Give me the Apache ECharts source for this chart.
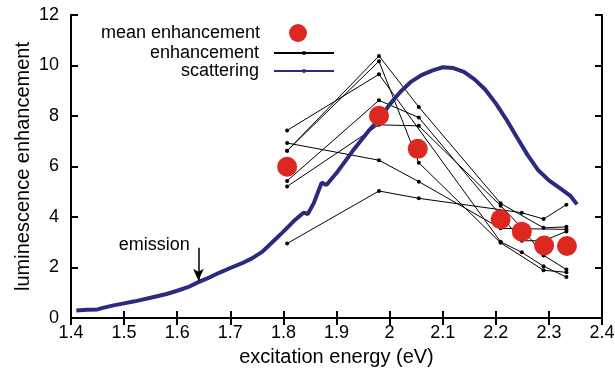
<!DOCTYPE html>
<html>
<head>
<meta charset="utf-8">
<script src="https://cdn.jsdelivr.net/npm/echarts@6/dist/echarts.min.js"></script>
<style>
  html, body { margin: 0; padding: 0; background: #fff; }
  #chart { width: 615px; height: 372px; }
</style>
</head>
<body>
<div id="chart"></div>
<script>
// excitation energies where enhancement was measured (eV)
var energies = [1.807, 1.98, 2.055, 2.209, 2.249, 2.29, 2.333];

// individual enhancement curves (null = not measured)
var enh1 = [6.62, 10.38, 8.36, 4.54, null, 3.57, 3.61];
var enh2 = [6.62, 10.17, 6.15, 2.98, null, 1.89, 1.81];
var enh3 = [7.43, 9.65, null, 3.02, 2.60, 2.05, 1.62];
var enh4 = [5.43, 8.62, 7.94, null, 3.06, 3.06, 3.43];
var enh5 = [5.21, 7.65, 7.61, 4.45, 3.57, 2.48, 1.92];
var enh6 = [6.93, 6.25, 5.40, 3.55, null, null, 3.51];
var enh7 = [2.95, 5.03, 4.74, null, 4.17, 3.92, 4.49];
var enhancements = [enh1, enh2, enh3, enh4, enh5, enh6, enh7];

// mean enhancement
var meanX = [1.807, 1.98, 2.053, 2.209, 2.249, 2.291, 2.334];
var meanY = [5.99, 8.01, 6.70, 3.91, 3.42, 2.87, 2.85];

// scattering spectrum
var scatX = [1.41, 1.43, 1.45, 1.46, 1.48, 1.50, 1.52, 1.55, 1.58, 1.60,
             1.62, 1.64, 1.66, 1.68, 1.70, 1.72, 1.74, 1.76, 1.78, 1.80,
             1.82, 1.838, 1.846, 1.857, 1.872, 1.881, 1.90, 1.93, 1.96, 1.98,
             2.00, 2.02, 2.04, 2.06, 2.08, 2.10, 2.12, 2.14, 2.16, 2.18,
             2.20, 2.22, 2.24, 2.26, 2.28, 2.30, 2.32, 2.34, 2.353];
var scatY = [0.30, 0.33, 0.34, 0.40, 0.50, 0.58, 0.66, 0.80, 0.95, 1.08,
             1.22, 1.42, 1.60, 1.80, 1.98, 2.15, 2.35, 2.62, 3.02, 3.42,
             3.85, 4.17, 4.12, 4.54, 5.36, 5.27, 5.74, 6.60, 7.40, 7.86,
             8.45, 8.95, 9.35, 9.62, 9.80, 9.93, 9.90, 9.75, 9.45, 9.05,
             8.50, 7.86, 7.15, 6.45, 5.85, 5.45, 5.15, 4.85, 4.50];

// emission marker
var emissionEnergy = 1.64;
var emissionArrow = [2.78, 1.48];
var emissionLabelPos = [1.557, 2.9];

var xTicks = { min: 1.4, max: 2.4, step: 0.1 };
var yTicks = { min: 0, max: 12, step: 2 };

var chartDom = document.getElementById('chart');
var myChart = echarts.init(chartDom, null, { renderer: 'canvas' });

var fontFam = '"Liberation Sans", Arial, Helvetica, sans-serif';

function pairs(xs, ys) {
  var out = [];
  for (var i = 0; i < xs.length; i++) {
    if (ys[i] !== null) out.push([xs[i], ys[i]]);
  }
  return out;
}

var series = [];
enhancements.forEach(function (vals) {
  series.push({
    name: 'enhancement',
    type: 'line',
    data: pairs(energies, vals),
    symbol: 'circle',
    symbolSize: 4,
    showSymbol: true,
    itemStyle: { color: '#000' },
    lineStyle: { color: '#000', width: 1 },
    z: 2,
    animation: false
  });
});

series.push({
  name: 'scattering',
  type: 'line',
  data: pairs(scatX, scatY),
  symbol: 'none',
  itemStyle: { color: '#2c2a80' },
  lineStyle: { color: '#2c2a80', width: 4 },
  z: 3,
  animation: false,
  markLine: {
    silent: true,
    symbol: ['none', 'arrow'],
    symbolSize: [8, 12],
    label: { show: false },
    lineStyle: { color: '#000', type: 'solid', width: 1.5 },
    data: [[{ coord: [emissionEnergy, emissionArrow[0]] }, { coord: [emissionEnergy, emissionArrow[1]] }]]
  },
  markPoint: {
    silent: true,
    symbol: 'rect',
    symbolSize: 1,
    itemStyle: { color: 'rgba(0,0,0,0)' },
    label: {
      show: true, position: 'inside', formatter: 'emission',
      color: '#000', fontSize: 18, fontFamily: fontFam
    },
    data: [{ coord: emissionLabelPos }]
  }
});

series.push({
  name: 'mean enhancement',
  type: 'scatter',
  data: pairs(meanX, meanY),
  symbol: 'circle',
  symbolSize: 20,
  itemStyle: { color: '#dc2820', opacity: 1 },
  z: 5,
  animation: false
});

function fmtX(v) { return String(Number(v.toFixed(1))); }

var axisLine = { show: true, lineStyle: { color: '#000', width: 2 } };
var tick = { show: true, inside: true, length: 7, lineStyle: { color: '#000', width: 2 } };

var option = {
  animation: false,
  grid: { left: 71, right: 13, top: 15, bottom: 54, containLabel: false, outerBoundsMode: 'none' },
  legend: [
    {
      data: ['mean enhancement'],
      orient: 'vertical', align: 'right',
      right: 303, top: 19,
      itemWidth: 60, itemHeight: 18,
      selectedMode: false,
      textStyle: { fontSize: 18, color: '#000', fontFamily: fontFam, padding: [0, 3, 0, 0] }
    },
    {
      data: ['enhancement', 'scattering'],
      orient: 'vertical', align: 'right',
      right: 275, top: 39,
      itemWidth: 60, itemHeight: 5, itemGap: 0,
      selectedMode: false,
      textStyle: { fontSize: 18, color: '#000', fontFamily: fontFam, padding: [0, 10, 0, 0] }
    }
  ],
  xAxis: [
    {
      type: 'value', min: xTicks.min, max: xTicks.max, interval: xTicks.step,
      position: 'bottom',
      name: 'excitation energy (eV)', nameLocation: 'middle', nameGap: 29,
      nameTextStyle: { fontSize: 20, color: '#000', fontFamily: fontFam },
      axisLine: axisLine, axisTick: tick, splitLine: { show: false },
      axisLabel: { fontSize: 18, color: '#000', margin: 6, fontFamily: fontFam, formatter: fmtX }
    },
    {
      type: 'value', min: xTicks.min, max: xTicks.max, interval: xTicks.step,
      position: 'top',
      axisLine: axisLine, axisTick: tick, splitLine: { show: false },
      axisLabel: { show: false }
    }
  ],
  yAxis: [
    {
      type: 'value', min: yTicks.min, max: yTicks.max, interval: yTicks.step,
      position: 'left',
      name: 'luminescence enhancement', nameLocation: 'middle', nameGap: 38,
      nameMoveOverlap: false,
      nameTextStyle: { fontSize: 20, color: '#000', fontFamily: fontFam },
      axisLine: axisLine, axisTick: tick, splitLine: { show: false },
      axisLabel: { fontSize: 18, color: '#000', margin: 12, fontFamily: fontFam }
    },
    {
      type: 'value', min: yTicks.min, max: yTicks.max, interval: yTicks.step,
      position: 'right',
      axisLine: axisLine, axisTick: tick, splitLine: { show: false },
      axisLabel: { show: false }
    }
  ],
  series: series
};

myChart.setOption(option);
window.addEventListener('resize', myChart.resize);
</script>
</body>
</html>
